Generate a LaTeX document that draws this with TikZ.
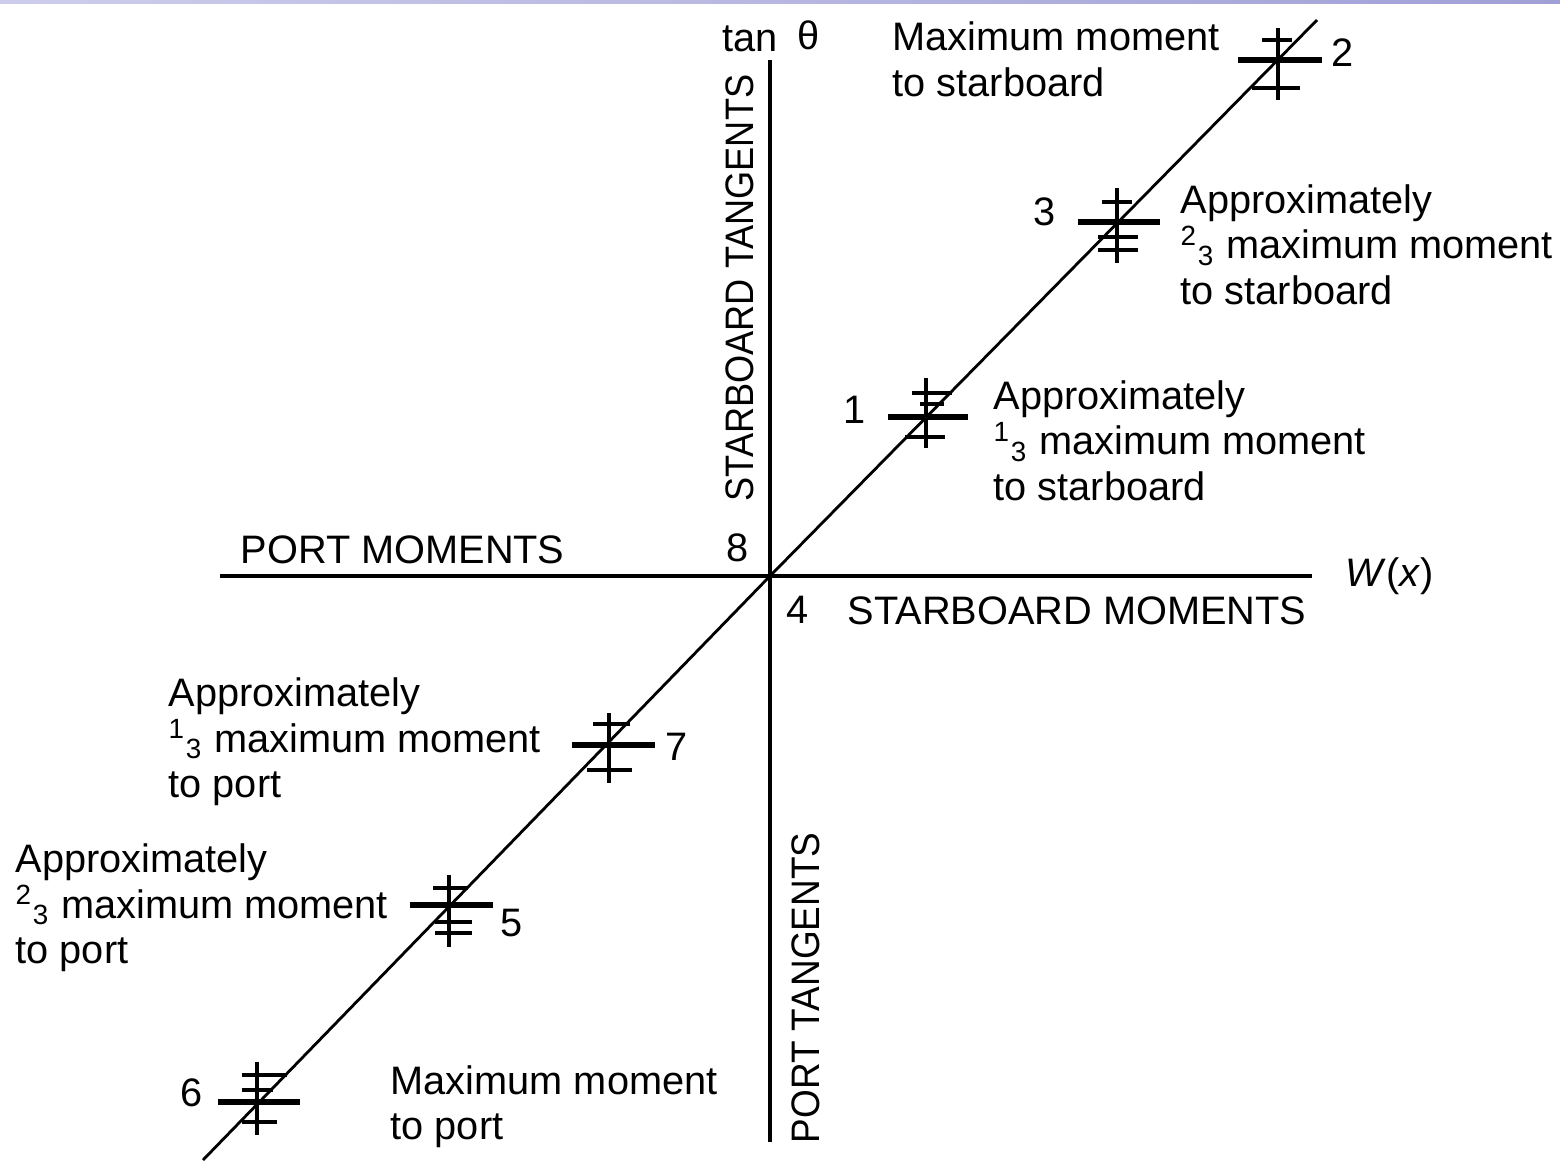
\documentclass[tikz,border=0pt]{standalone}
\usepackage{fontspec}
\setmainfont{Liberation Sans}

\tikzset{
  lbl/.style={inner sep=0pt, font=\fontsize{11.3}{12.8}\selectfont},
  note/.style={lbl, align=left, anchor=base west},
  axis/.style={line width=1.15pt},
  bar/.style={line width=1.45pt},
  tick/.style={line width=1pt},
}

\begin{document}
\begin{tikzpicture}[x=0.01cm,y=-0.01cm]
  \useasboundingbox (0,0) rectangle (1560,1160);
  \shade[left color={rgb,255:red,205;green,205;blue,235}, middle color={rgb,255:red,95;green,95;blue,190},
    right color={rgb,255:red,160;green,160;blue,215}] (0,0) rectangle (1560,3);

  % axes
  \coordinate (O) at (770,576);
  \coordinate (wl) at (220,576);
  \coordinate (wr) at (1312,576);
  \coordinate (tt) at (770,60);
  \coordinate (tb) at (770,1142);
  \coordinate (dl) at (203,1160);
  \coordinate (dr) at (1317,20);
  \draw[axis] (wl) -- (wr);
  \draw[axis] (tt) -- (tb);
  \draw[line width=0.8pt] (dl) -- (O) -- (dr);

  \node[lbl, anchor=base west] (tanlbl) at (722,51) {tan\hspace{0.2cm}\raisebox{0.5pt}{θ}};
  \node[lbl, anchor=west] (wlbl) at (1345,576) {\textit{W}(\textit{x})};
  \node[lbl, rotate=90, xscale=0.91] (stbdtan) at (740,288) {STARBOARD TANGENTS};
  \node[lbl, rotate=90, xscale=0.93] (porttan) at (806,988) {PORT TANGENTS};
  \node[lbl, anchor=base west] (portmom) at (240,563) {PORT MOMENTS};
  \node[lbl, anchor=base west] (stbdmom) at (847,624) {STARBOARD MOMENTS};
  \node[lbl] (n8) at (738,548) {8};
  \node[lbl] (n4) at (798,610) {4};

  % marker 2
  \draw[tick] (1278,28) -- (1278,100);
  \draw[bar] (1238,60) -- (1322,60);
  \draw[tick] (1262,40) -- (1292,40);
  \draw[tick] (1252,88) -- (1300,88);
  \node[lbl] (m2) at (1343,53) {2};
  \node[note] (maxstbd) at (892,96) {Maximum moment\\to starboard};

  % marker 3
  \draw[tick] (1117,188) -- (1117,263);
  \draw[bar] (1078,222) -- (1160,222);
  \draw[tick] (1102,202) -- (1132,202);
  \draw[tick] (1098,237) -- (1138,237);
  \draw[tick] (1098,250) -- (1138,250);
  \node[lbl] (m3) at (1045,212) {3};
  \node[note] (twostbd) at (1180,304) {Approximately\\\textsuperscript{2}\textsubscript{3} maximum moment\\to starboard};

  % marker 1
  \draw[tick] (926,378) -- (926,448);
  \draw[bar] (888,417) -- (968,417);
  \draw[tick] (912,393) -- (952,393);
  \draw[tick] (920,404) -- (944,404);
  \draw[tick] (905,437) -- (945,437);
  \node[lbl] (m1) at (855,410) {1};
  \node[note] (onestbd) at (993,500) {Approximately\\\textsuperscript{1}\textsubscript{3} maximum moment\\to starboard};

  % marker 7
  \draw[tick] (609,713) -- (609,783);
  \draw[tick] (593,724) -- (630,724);
  \draw[bar] (572,745) -- (655,745);
  \draw[tick] (587,770) -- (632,770);
  \node[lbl] (m7) at (677,747) {7};
  \node[note] (oneport) at (168,797) {Approximately\\\textsuperscript{1}\textsubscript{3} maximum moment\\to port};

  % marker 5
  \draw[tick] (449,875) -- (449,947);
  \draw[tick] (433,888) -- (468,888);
  \draw[bar] (410,905) -- (493,905);
  \draw[tick] (435,922) -- (472,922);
  \draw[tick] (435,933) -- (472,933);
  \node[lbl] (m5) at (512,923) {5};
  \node[note] (twoport) at (15,963) {Approximately\\\textsuperscript{2}\textsubscript{3} maximum moment\\to port};

  % marker 6
  \draw[tick] (257,1062) -- (257,1135);
  \draw[tick] (242,1075) -- (287,1075);
  \draw[tick] (242,1090) -- (273,1090);
  \draw[bar] (218,1102) -- (300,1102);
  \draw[tick] (242,1122) -- (277,1122);
  \node[lbl] (m6) at (192,1093) {6};
  \node[note] (maxport) at (390,1139) {Maximum moment\\to port};
\end{tikzpicture}
\end{document}
